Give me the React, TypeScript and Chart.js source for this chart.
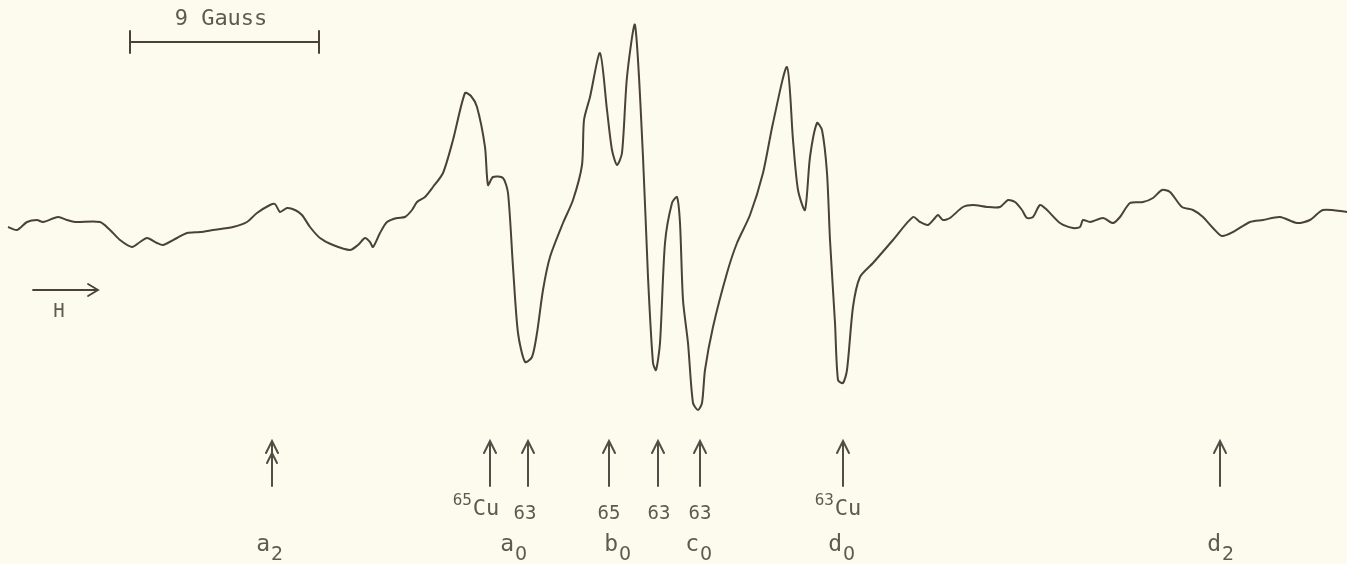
import React, { useEffect, useRef } from "react";
import { Chart, registerables } from "chart.js";
Chart.register(...registerables);

// Baseline of the recorder trace (chart-paper units, measured downward)
const BASE = 220;

// Field position (recorder units, left -> right = increasing H)
const traceX = [
  8, 17, 27, 37, 43, 58, 67, 75, 100, 110, 120, 132, 140, 147, 157, 163, 177, 187, 200, 213,
  233, 247, 257, 270, 275, 280, 287, 295, 302, 310, 320, 333, 350, 358, 365, 370, 373, 380, 387, 397,
  405, 412, 417, 425, 433, 443, 453, 465, 471, 477, 485, 488, 493, 503, 508, 513, 518, 525, 532, 537,
  543, 550, 563, 573, 582, 584, 590, 600, 607, 612, 617, 622, 627, 635, 643, 648, 653, 656, 660, 665,
  672, 677, 680, 683, 688, 693, 698, 702, 705, 713, 727, 737, 750, 763, 773, 787, 793, 798, 805, 810,
  817, 822, 827, 830, 835, 838, 843, 847, 853, 860, 873, 893, 913, 920, 928, 935, 938, 943, 950,
  963, 973, 987, 1000, 1008, 1015, 1022, 1027, 1033, 1040, 1047, 1060, 1073, 1080, 1083, 1090, 1103, 1113, 1120, 1130,
  1143, 1153, 1162, 1170, 1182, 1193, 1203, 1213, 1222, 1233, 1250, 1263, 1280, 1297, 1310, 1323, 1347,
];

// Pen deflection (downward units)
const traceDeflection = [
  227, 230, 222, 220, 222, 217, 220, 222, 222, 230, 240, 247, 242, 238, 243, 245, 238, 233, 232, 230,
  227, 222, 213, 205, 204, 212, 208, 210, 215, 227, 238, 245, 250, 245, 238, 242, 247, 233, 222, 218,
  217, 210, 202, 197, 187, 173, 140, 93, 96, 107, 147, 185, 177, 178, 193, 267, 333, 362, 357, 333,
  290, 257, 223, 200, 165, 120, 97, 53, 110, 150, 165, 153, 77, 25, 157, 277, 363, 370, 343, 243,
  203, 197, 223, 300, 343, 403, 410, 403, 370, 327, 273, 243, 215, 173, 123, 67, 140, 190, 210, 157,
  123, 130, 173, 240, 323, 380, 383, 370, 307, 277, 263, 240, 217, 222, 225, 218, 215, 220, 218,
  207, 205, 207, 207, 200, 202, 210, 218, 217, 205, 210, 223, 228, 227, 220, 222, 218, 223, 217, 203,
  202, 198, 190, 192, 207, 210, 217, 228, 236, 232, 222, 220, 217, 223, 220, 210, 212,
];

// Line-position markers
const arrowX = [272, 490, 528, 609, 658, 700, 843, 1220];

// Isotope labels under the arrows
const isoX = [472, 525, 609, 659, 700, 834];
const isoSup = ["65", "", "", "", "", "63"];
const isoMain = ["Cu", "63", "65", "63", "63", "Cu"];

// Line names
const lineX = [270, 514, 618, 699, 842, 1221];
const lineBase = ["a", "a", "b", "c", "d", "d"];
const lineSub = ["2", "0", "0", "0", "0", "2"];

// Scale bar (9 Gauss)
const scaleBarX = [130, 319];
const scaleBarLabel = "9 Gauss";

const INK = "#4a4232";
const TEXT = "#5b5b52";
const PAPER = "#fcfbee";
const MONO = "'DejaVu Sans Mono', monospace";
const SANS = "'DejaVu Sans', sans-serif";

const annotations = {
  id: "epr-annotations",
  afterDraw(chart: any) {
    const ctx = chart.ctx as CanvasRenderingContext2D;
    const xs = chart.scales.x;
    const ys = chart.scales.y;
    const px = (v: number) => xs.getPixelForValue(v);
    const py = (d: number) => ys.getPixelForValue(BASE - d);
    ctx.save();
    ctx.fillStyle = TEXT;
    ctx.lineCap = "round";

    // scale bar
    ctx.strokeStyle = INK;
    ctx.lineWidth = 2;
    const x0 = px(scaleBarX[0]);
    const x1 = px(scaleBarX[1]);
    const yb = py(42);
    ctx.beginPath();
    ctx.moveTo(x0, yb); ctx.lineTo(x1, yb);
    ctx.moveTo(x0, yb - 11); ctx.lineTo(x0, yb + 11);
    ctx.moveTo(x1, yb - 11); ctx.lineTo(x1, yb + 11);
    ctx.stroke();
    ctx.font = `22px ${MONO}`;
    ctx.textAlign = "center";
    ctx.textBaseline = "alphabetic";
    ctx.fillText(scaleBarLabel, px(221), py(25));

    // H arrow
    ctx.lineWidth = 1.8;
    const hy = py(290);
    ctx.beginPath();
    ctx.moveTo(px(33), hy); ctx.lineTo(px(98), hy);
    ctx.moveTo(px(88), hy - 6); ctx.lineTo(px(98), hy); ctx.lineTo(px(88), hy + 6);
    ctx.stroke();
    ctx.font = `19px ${MONO}`;
    ctx.fillText("H", px(59), py(317));

    // up arrows
    ctx.strokeStyle = "#4f4f47";
    ctx.lineWidth = 2;
    arrowX.forEach((a, i) => {
      const x = px(a);
      const top = py(441);
      const bot = py(486);
      ctx.beginPath();
      ctx.moveTo(x, bot); ctx.lineTo(x, top);
      ctx.moveTo(x - 6, top + 12); ctx.lineTo(x, top); ctx.lineTo(x + 6, top + 12);
      if (i === 0) {
        // doubled head on the a2 marker, as in the original trace
        ctx.moveTo(x - 5, top + 22); ctx.lineTo(x, top + 12); ctx.lineTo(x + 5, top + 22);
      }
      ctx.stroke();
    });

    // isotope labels
    ctx.textBaseline = "alphabetic";
    isoX.forEach((xv, i) => {
      const x = px(xv);
      ctx.textAlign = "center";
      if (isoSup[i]) {
        ctx.font = `22px ${MONO}`;
        ctx.fillText(isoMain[i], x + 14, py(515));
        ctx.font = `16px ${MONO}`;
        ctx.textAlign = "right";
        ctx.fillText(isoSup[i], x, py(505));
      } else {
        ctx.font = `19px ${MONO}`;
        ctx.fillText(isoMain[i], x, py(519));
      }
    });

    // line names with subscripts
    lineX.forEach((xv, i) => {
      const x = px(xv);
      ctx.textAlign = "right";
      ctx.font = `23px ${MONO}`;
      ctx.fillText(lineBase[i], x, py(551));
      ctx.textAlign = "left";
      ctx.font = `19px ${SANS}`;
      ctx.fillText(lineSub[i], x + 1, py(560));
    });
    ctx.restore();
  },
};

export default function App() {
  const ref = useRef<HTMLCanvasElement | null>(null);
  useEffect(() => {
    document.body.style.margin = "0";
    document.body.style.background = PAPER;
    const canvas = ref.current!;
    const points = traceX.map((x, i) => ({ x, y: BASE - traceDeflection[i] }));
    const chart = new Chart(canvas, {
      type: "line",
      data: {
        datasets: [
          {
            data: points,
            borderColor: INK,
            borderWidth: 2,
            pointRadius: 0,
            tension: 0.25,
            fill: false,
          },
        ],
      },
      options: {
        animation: false,
        responsive: false,
        events: [],
        layout: { padding: 0 },
        plugins: { legend: { display: false }, tooltip: { enabled: false }, title: { display: false } },
        scales: {
          x: { type: "linear", min: 0, max: 1347, display: false },
          y: { type: "linear", min: BASE - 564, max: BASE, display: false },
        },
      },
      plugins: [annotations],
    });
    return () => chart.destroy();
  }, []);
  return (
    <div style={{ position: "fixed", left: 0, top: 0, width: 1347, height: 564, background: PAPER }}>
      <canvas ref={ref} width={1347} height={564} style={{ display: "block" }} />
    </div>
  );
}
